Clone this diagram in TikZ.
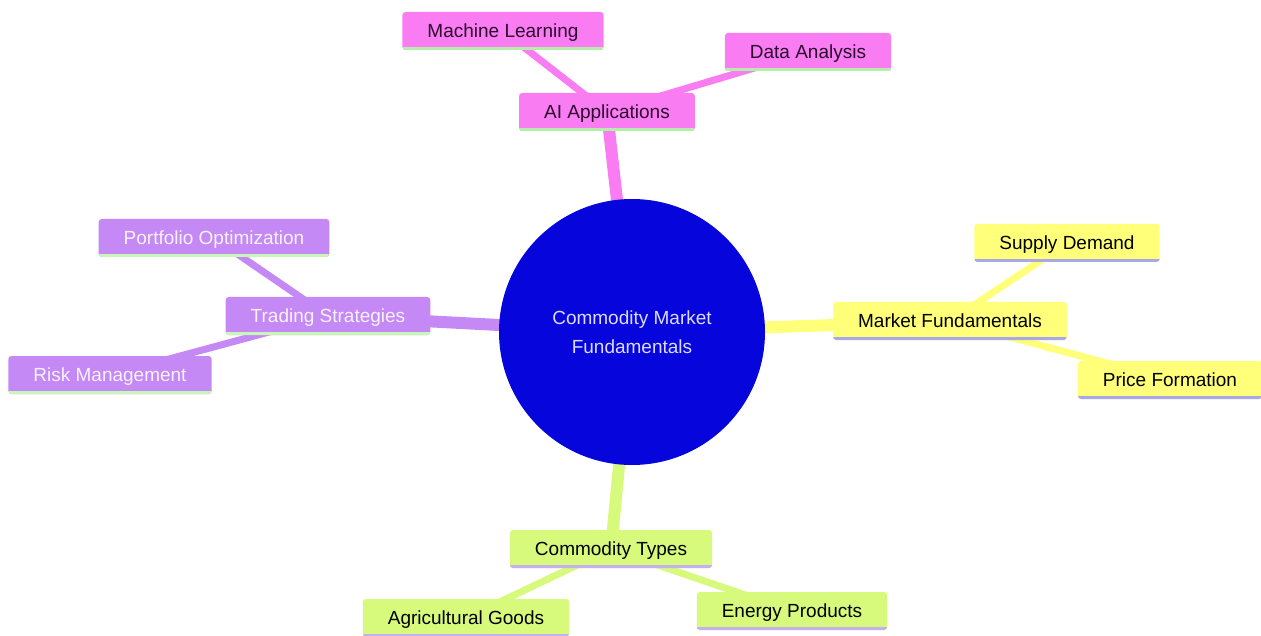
\documentclass[tikz,border=0pt]{standalone}
\usepackage{fontspec}
\setmainfont{Liberation Sans}
\usetikzlibrary{backgrounds}
\definecolor{magfill}{HTML}{F97CF3}
\definecolor{magline}{HTML}{B4EEA8}
\definecolor{magtext}{HTML}{2B0A2B}
\definecolor{yelfill}{HTML}{FFFF7A}
\definecolor{yelline}{HTML}{A8A8E6}
\definecolor{purfill}{HTML}{C489F5}
\definecolor{purline}{HTML}{C8F5B8}
\definecolor{purtext}{HTML}{F8F2FF}
\definecolor{grnfill}{HTML}{D7FA7D}
\definecolor{grnline}{HTML}{C4B0EE}
\definecolor{rootfill}{HTML}{0505DC}
\definecolor{roottext}{HTML}{DCDCFF}
\tikzset{
  box/.style={rectangle, rounded corners=3pt, minimum height=38pt, inner xsep=25pt,
    text height=13.6pt, text depth=0pt,
    font=\fontsize{19}{23}\selectfont},
  bar/.style={path picture={\draw[line width=6pt,#1]
      (path picture bounding box.south west) -- (path picture bounding box.south east);}},
  magbox/.style={box, fill=magfill, text=magtext, bar=magline},
  yelbox/.style={box, fill=yelfill, text=black, bar=yelline},
  purbox/.style={box, fill=purfill, text=purtext, bar=purline},
  grnbox/.style={box, fill=grnfill, text=black, bar=grnline},
  rootnode/.style={circle, fill=rootfill, text=roottext, minimum size=266pt, inner sep=0pt,
    align=center, font=\fontsize{19}{29}\selectfont},
  mainedge/.style={line width=12pt},
  subedge/.style={line width=7pt},
}
\begin{document}
\begin{tikzpicture}[x=1pt,y=-1pt]
\useasboundingbox (0,0) rectangle (1261,636);
\node[rootnode] (root) at (632,332) {Commodity Market\\Fundamentals};
\node[magbox] (ai) at (607,112) {AI Applications};
\node[magbox] (ml) at (503,31) {Machine Learning};
\node[magbox] (da) at (808,52) {Data Analysis};
\node[yelbox] (mf) at (950,321) {Market Fundamentals};
\node[yelbox] (sd) at (1067,243) {Supply Demand};
\node[yelbox] (pf) at (1170,380) {Price Formation};
\node[purbox] (ts) at (328,316) {Trading Strategies};
\node[purbox] (po) at (214,238) {Portfolio Optimization};
\node[purbox] (rm) at (110,375) {Risk Management};
\node[grnbox] (ct) at (611,549) {Commodity Types};
\node[grnbox] (ag) at (466,618) {Agricultural Goods};
\node[grnbox] (ep) at (792,611) {Energy Products};
\begin{scope}[on background layer]
\draw[mainedge, magfill] (root.center) -- (ai.center);
\draw[subedge, magfill] (ai.center) -- (ml.center);
\draw[subedge, magfill] (ai.center) -- (da.center);
\draw[mainedge, yelfill] (root.center) -- (mf.center);
\draw[subedge, yelfill] (mf.center) -- (sd.center);
\draw[subedge, yelfill] (mf.center) -- (pf.center);
\draw[mainedge, purfill] (root.center) -- (ts.center);
\draw[subedge, purfill] (ts.center) -- (po.center);
\draw[subedge, purfill] (ts.center) -- (rm.center);
\draw[mainedge, grnfill] (root.center) -- (ct.center);
\draw[subedge, grnfill] (ct.center) -- (ag.center);
\draw[subedge, grnfill] (ct.center) -- (ep.center);
\end{scope}
\end{tikzpicture}
\end{document}
